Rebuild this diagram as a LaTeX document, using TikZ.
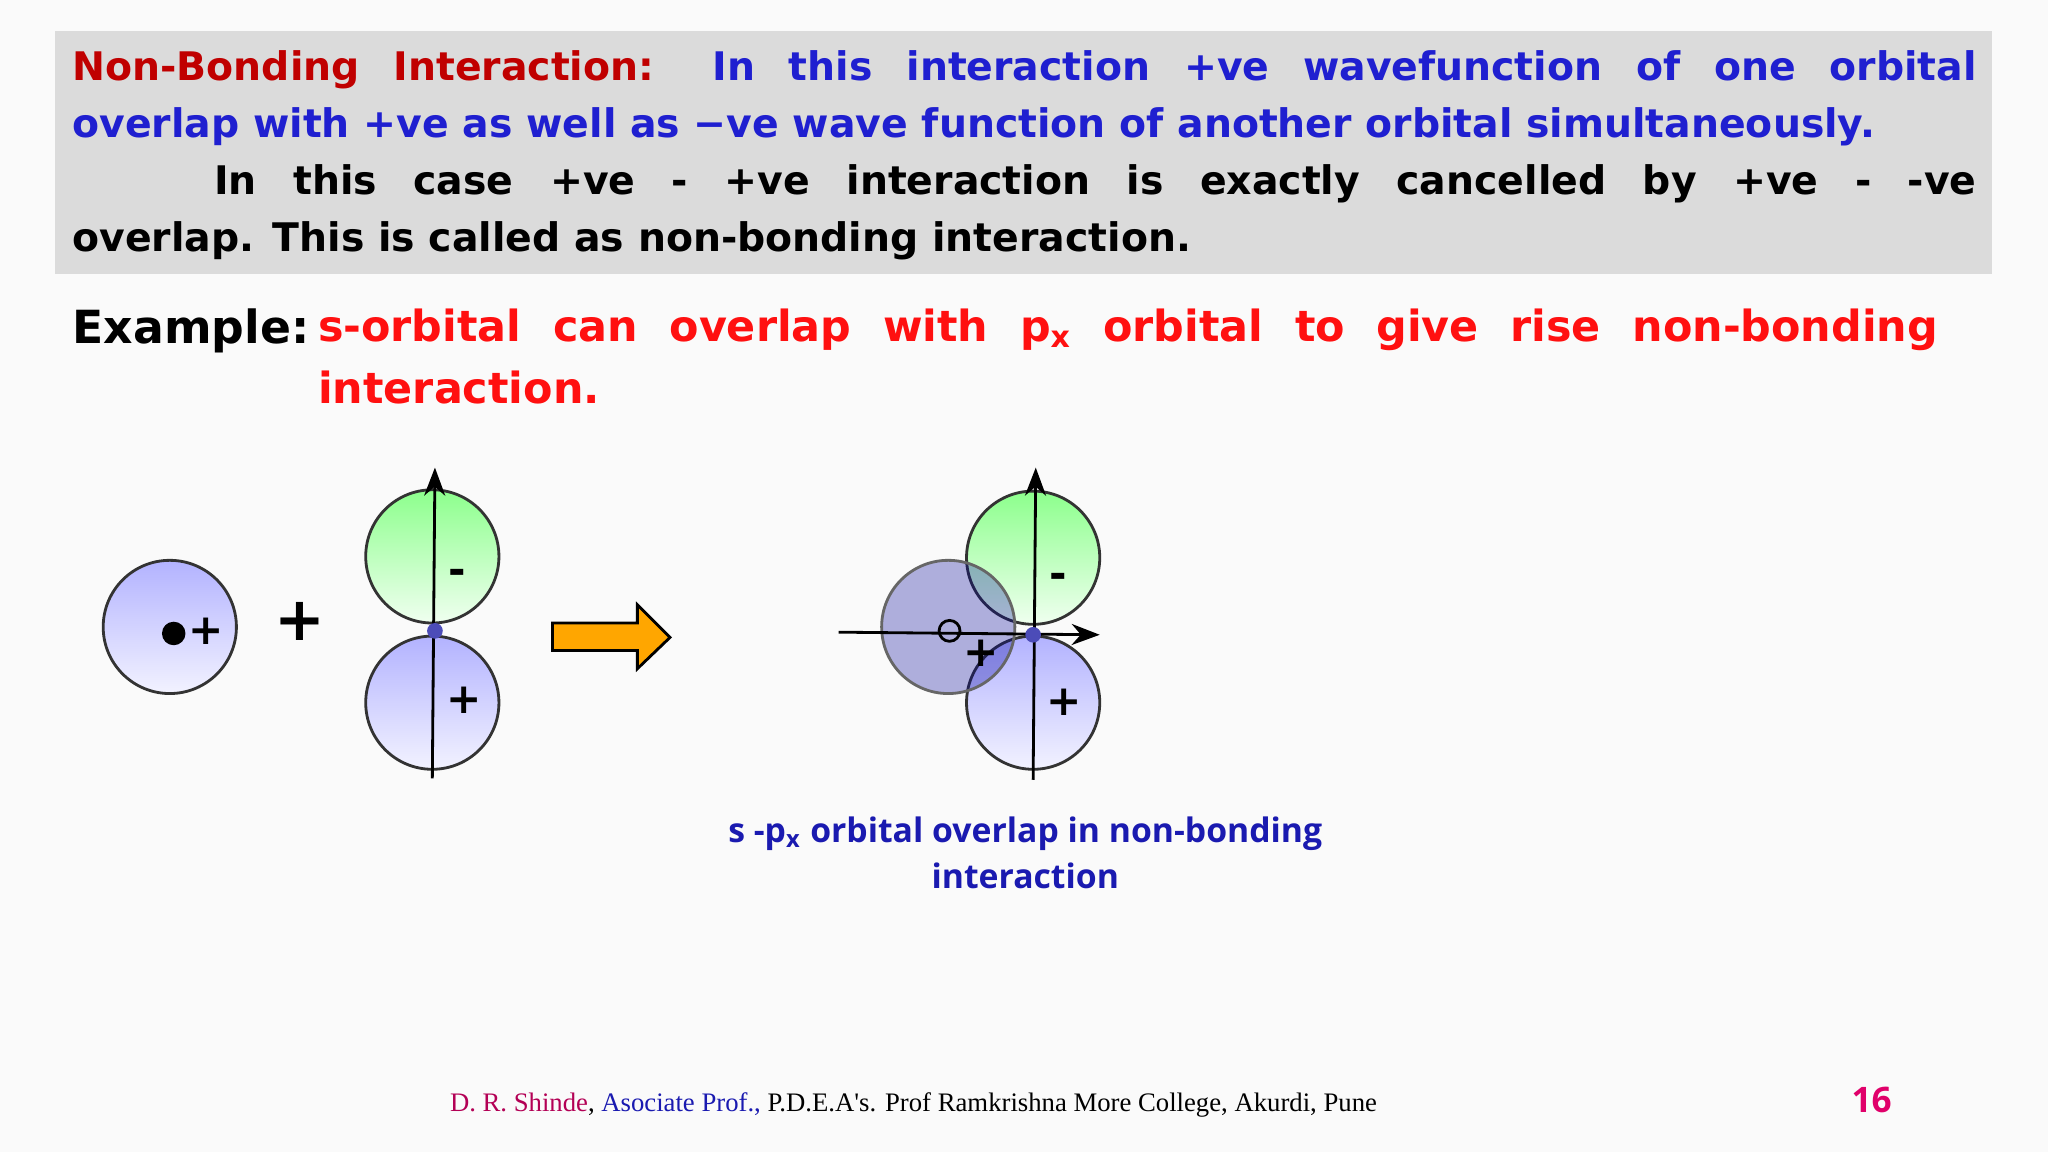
\documentclass[tikz,border=0pt]{standalone}
\usepackage{fontspec}
\setmainfont{DejaVu Sans}
\newfontfamily\capfont{Open Sans}
\newfontfamily\footfont{Liberation Serif}
\usetikzlibrary{arrows.meta}
\definecolor{nbred}{HTML}{C00000}
\definecolor{nbblue}{HTML}{1F1FD0}
\definecolor{exred}{HTML}{FF1010}
\definecolor{capblue}{HTML}{1A1AB0}
\definecolor{pink}{HTML}{E0006A}
\tikzset{
 borb/.style={draw=black!80,thick,top color=blue!30!white,bottom color=blue!5!white},
 gorb/.style={draw=black!80,thick,top color=green!45!white,bottom color=green!6!white},
 ax/.style={thick,-{Stealth[length=8pt]}},
 sgn/.style={font=\bfseries\large}
}
\begin{document}
\begin{tikzpicture}[x=0.01306cm,y=-0.01306cm]
\fill[black!2] (0,0) rectangle (1568,882);
\useasboundingbox (0,0) rectangle (1568,882);
\fill[black!14] (42,24) rectangle (1525,210);
\node[anchor=north west,text width=19.04cm,align=justify,inner sep=0pt,font=\bfseries\fontsize{11.2}{16.2}\selectfont] (txt) at (55,38)
{\hyphenpenalty=10000\relax\textcolor{nbred}{Non-Bonding Interaction:} \textcolor{nbblue}{In this interaction +ve wavefunction of one orbital\linebreak overlap with +ve as well as −ve wave function of another orbital simultaneously.}\\
\hspace*{3.6em}In this case +ve - +ve interaction is exactly cancelled by +ve - -ve\linebreak overlap. This is called as non-bonding interaction.};
\node[anchor=north west,inner sep=0pt,font=\bfseries\fontsize{13}{17.5}\selectfont] (ex) at (55,236) {Example:};
\node[anchor=north west,inner sep=0pt,text width=16.2cm,align=justify,font=\bfseries\fontsize{12.2}{17.5}\selectfont,text=exred] (ext) at (243,236)
{s-orbital can overlap with p\textsubscript{x} orbital to give rise non-bonding\linebreak interaction.};
% left
\draw[borb] (130,480) circle (51);
\fill (133,485) circle (9);
\node[sgn] (sp) at (158,483) {+};
\node[font=\bfseries\LARGE] (plus) at (230,476) {+};
\draw[gorb] (331,426) circle (51);
\draw[borb] (331,538) circle (51);
\coordinate (a1) at (331,596); \coordinate (a2) at (333,358);
\draw[ax] (a1) -- (a2);
\fill[blue!60!black!70] (333,483) circle (6);
\node[sgn] (m1) at (350,442) {-};
\node[sgn] (p1) at (355,536) {+};
\draw[thick,fill=orange!70!yellow] (423,477) -- (488,477) -- (488,463) -- (513,488) -- (488,512) -- (488,498) -- (423,498) -- cycle;
% right
\draw[gorb] (791,427) circle (51);
\draw[borb] (791,538) circle (51);
\fill[blue!60!black,opacity=0.3] (726,480) circle (51);
\draw[thick,black!60] (726,480) circle (51);
\draw[thick] (727,483) circle (8);
\coordinate (h1) at (642,484); \coordinate (h2) at (842,486);
\coordinate (v1) at (791,597); \coordinate (v2) at (793,358);
\draw[ax] (h1) -- (h2);
\draw[ax] (v1) -- (v2);
\fill[blue!60!black!70] (791,486) circle (6);
\node[sgn] (m2) at (810,445) {-};
\node[sgn] (p2) at (751,500) {+};
\node[sgn] (p3) at (815,538) {+};
\node[align=center,text=capblue,font=\capfont\bfseries\fontsize{9.6}{13}\selectfont] (cap) at (785,653) {s -p\textsubscript{x} orbital overlap in non-bonding\\interaction};
\node[anchor=west,inner sep=0pt,font=\footfont\fontsize{7.6}{10}\selectfont] (foot) at (344,846) {\textcolor{pink!80!black}{D. R. Shinde}, \textcolor{capblue}{Asociate Prof.,} P.D.E.A's. Prof Ramkrishna More College, Akurdi, Pune};
\node[font=\capfont\bfseries\fontsize{10}{12}\selectfont,text=pink] (pg) at (1433,842) {16};
\end{tikzpicture}
\end{document}
